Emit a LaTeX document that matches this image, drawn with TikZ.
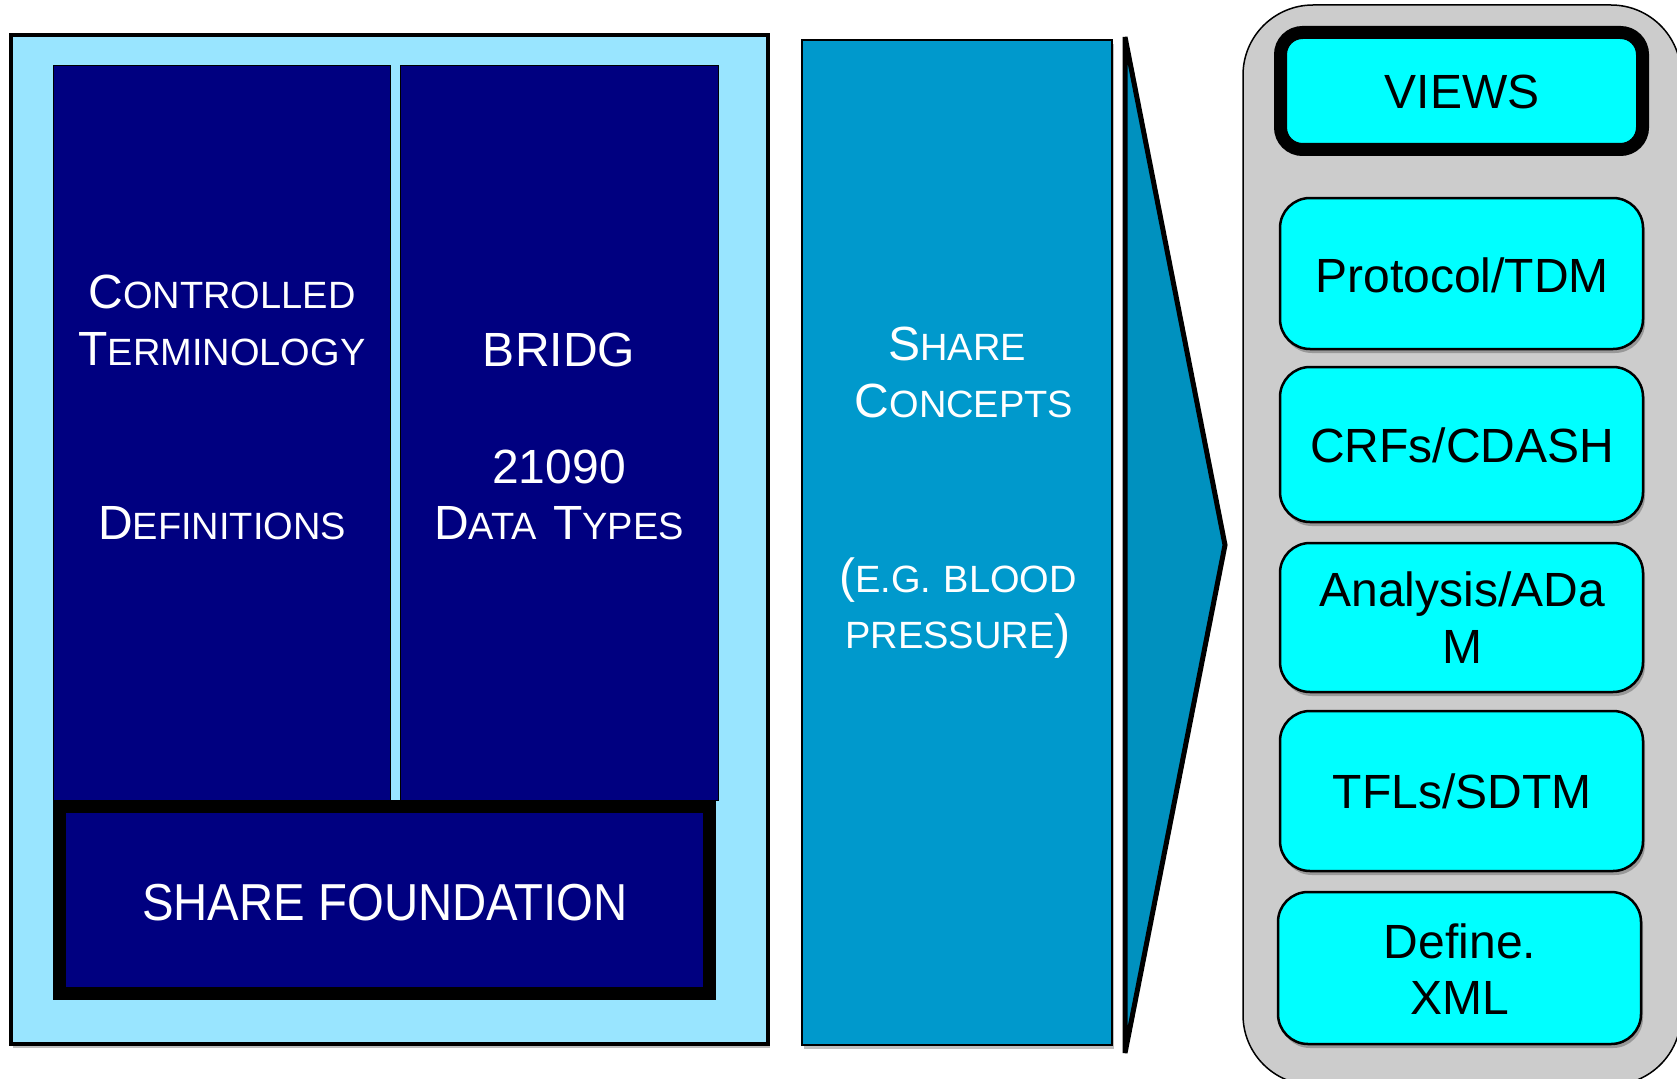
\documentclass[tikz,border=0pt]{standalone}
\usepackage{fontspec}
\setmainfont{Liberation Sans}
\usetikzlibrary{shadows}
\definecolor{lightblue}{RGB}{153,229,255}
\definecolor{navyblue}{RGB}{0,0,128}
\definecolor{conceptblue}{RGB}{0,153,204}
\definecolor{chevronblue}{RGB}{0,145,191}
\definecolor{panelgray}{RGB}{204,204,204}
\definecolor{viewcyan}{RGB}{0,255,255}
\newcommand{\SCb}[1]{{\fontsize{48}{57}\selectfont #1}}
\newcommand{\SCs}[1]{{\fontsize{38}{57}\selectfont #1}}
\begin{document}
\begin{tikzpicture}[x=1pt,y=-1pt,
  box/.style={draw=black, anchor=north west, inner sep=0pt, outer sep=0pt},
  softshadow/.style={drop shadow={shadow xshift=2pt, shadow yshift=-4pt, opacity=0.25, fill=black}},
  whitetxt/.style={text=white, anchor=base, inner sep=0pt},
  blacktxt/.style={text=black, anchor=base, inner sep=0pt, font=\fontsize{48}{57}\selectfont},
  viewbox/.style={box, fill=viewcyan, rounded corners=30pt, line width=2.5pt, softshadow, minimum width=363pt}
]
\useasboundingbox (0,0) rectangle (1677,1078);
\fill[white] (0,0) rectangle (1677,1078);

% left panel
\node[box, fill=lightblue, line width=4.5pt, softshadow, minimum width=757pt, minimum height=1009pt] (lb) at (11,35) {};
\node[box, fill=navyblue, line width=1pt, minimum width=337pt, minimum height=734pt] (ct) at (53,66) {};
\node[box, fill=navyblue, line width=1pt, minimum width=318pt, minimum height=734pt] (br) at (400,66) {};
\node[box, fill=navyblue, line width=13pt, softshadow, minimum width=650pt, minimum height=187pt] (found) at (59.5,806.5) {};

\node[whitetxt] (t1) at (222,308) {\SCb{C}\SCs{ONTROLLED}};
\node[whitetxt] (t2) at (222,365) {\SCb{T}\SCs{ERMINOLOGY}};
\node[whitetxt] (t3) at (222,539) {\SCb{D}\SCs{EFINITIONS}};
\node[whitetxt] (b1) at (559,366) {\SCb{BRIDG}};
\node[whitetxt] (b2) at (559,483) {\SCb{21090}};
\node[whitetxt] (b3) at (559,539) {\SCb{D}\SCs{ATA}\hspace{16pt}\SCb{T}\SCs{YPES}};
\node[whitetxt] (f1) at (385,920) {\scalebox{0.91}[1]{\fontsize{52}{60}\selectfont SHARE FOUNDATION}};

% middle panel
\node[box, fill=conceptblue, line width=1.2pt, softshadow, minimum width=310pt, minimum height=1005pt] (cc) at (802,40) {};
\node[whitetxt] (c1) at (957,360) {\SCb{S}\SCs{HARE}};
\node[whitetxt] (c2) at (964,417) {\SCb{C}\SCs{ONCEPTS}};
\node[whitetxt] (c3) at (958,592) {\SCb{(}\SCs{E.G.\hspace{2pt} BLOOD}};
\node[whitetxt] (c4) at (958,648) {\SCs{PRESSURE}\SCb{)}};

% chevron
\draw[fill=chevronblue, line width=5pt, line join=miter] (1125,37) -- (1225,545) -- (1125,1053) -- cycle;

% right panel
\node[box, fill=panelgray, line width=1.5pt, rounded corners=70pt, minimum width=438pt, minimum height=1080pt] (gp) at (1243,5) {};
\node[box, fill=viewcyan, line width=13pt, rounded corners=22pt, softshadow, minimum width=362pt, minimum height=117pt] (views) at (1280.5,32.5) {};
\node[viewbox, minimum height=151pt] (proto) at (1280,198) {};
\node[viewbox, minimum height=155pt] (crf) at (1280,367) {};
\node[viewbox, minimum height=149pt] (ana) at (1280,543) {};
\node[viewbox, minimum height=160pt] (tfl) at (1280,711) {};
\node[viewbox, minimum height=152pt] (def) at (1278,892) {};

\node[blacktxt] (v1) at (1462,109) {VIEWS};
\node[blacktxt] (p1) at (1462,292) {Protocol/TDM};
\node[blacktxt] (r1) at (1462,462) {CRFs/CDASH};
\node[blacktxt] (a1) at (1462,606) {Analysis/ADa};
\node[blacktxt] (a2) at (1462,663) {M};
\node[blacktxt] (s1) at (1462,808) {TFLs/SDTM};
\node[blacktxt] (d1) at (1460,958) {Define.};
\node[blacktxt] (d2) at (1460,1014) {XML};
\end{tikzpicture}
\end{document}
